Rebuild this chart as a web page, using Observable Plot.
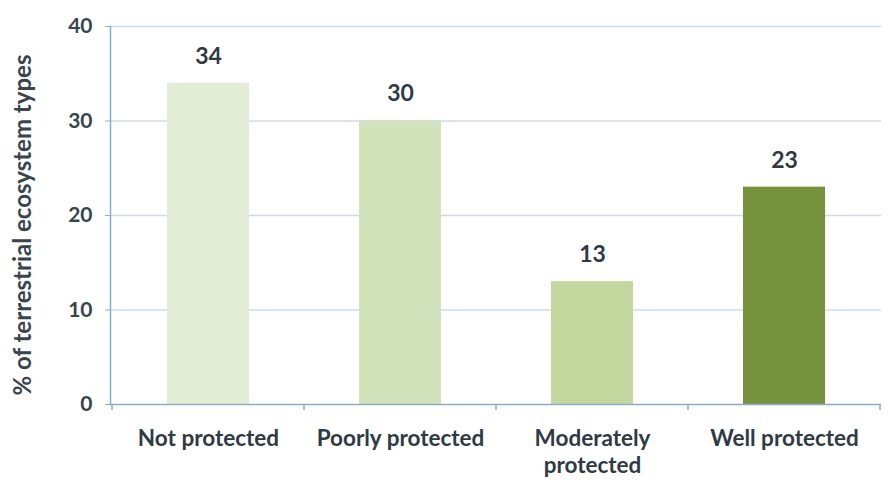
<!DOCTYPE html>
<html>
<head>
<meta charset="utf-8">
<script src="https://cdn.jsdelivr.net/npm/d3@7"></script>
<script src="https://cdn.jsdelivr.net/npm/@observablehq/plot@0.6"></script>
<style>
  html, body { margin: 0; padding: 0; background: #ffffff; }
  #chart { width: 891px; height: 481px; }
  svg { font-family: Lato, "Open Sans", sans-serif; }
</style>
</head>
<body>
<div id="chart"></div>
<script>
const categories = ["Not protected", "Poorly protected", "Moderately protected", "Well protected"];
const tickLabels = ["Not protected", "Poorly protected", "Moderately\nprotected", "Well protected"];
const values = [34, 30, 13, 23];
const colors = ["#e3edd6", "#d2e2bb", "#c3d89f", "#76923c"];
const yTicks = [0, 10, 20, 30, 40];
const yLabel = "% of terrestrial ecosystem types";

const data = categories.map((c, i) => ({category: c, value: values[i], color: colors[i]}));

const chart = Plot.plot({
  width: 891,
  height: 481,
  marginLeft: 110,
  marginRight: 10,
  marginTop: 26,
  marginBottom: 77,
  style: {fontFamily: "Lato, 'Open Sans', sans-serif", background: "#ffffff"},
  x: {domain: categories, paddingInner: 0.575, paddingOuter: 0.2875, axis: null},
  y: {domain: [0, 40], ticks: yTicks, axis: null},
  marks: [
    Plot.gridY(yTicks.filter(t => t > 0), {stroke: "#c9dcea", strokeOpacity: 1, strokeWidth: 1.5}),
    Plot.barY(data, {x: "category", y: "value", fill: "color"}),
    Plot.text(data, {x: "category", y: "value", text: d => String(d.value), dy: -27, fontSize: 23, fontWeight: "bold", fill: "#2f3a44"}),
    Plot.axisY({ticks: yTicks, tickSize: 5, tickPadding: 13, fontSize: 21, fontWeight: "bold", fill: "#3a444c", stroke: "#8eaac8", label: null}),
    Plot.axisX({tickSize: 0, tickPadding: 22, fontSize: 22.5, fontWeight: "bold", fill: "#2f3a44", lineWidth: 100, lineHeight: 1.2,
      tickFormat: d => tickLabels[categories.indexOf(d)], label: null}),
    Plot.frame({anchor: "left", stroke: "#8eaac8", strokeWidth: 1.5}),
    Plot.ruleY([0], {stroke: "#8eaac8", strokeWidth: 1.5})
  ]
});

// y label and x-axis band boundary ticks
const svg = d3.select(chart);
const xs = chart.scale("x");
const ys = chart.scale("y");
const half = xs.step / 2;
const bounds = categories.map(c => xs.apply(c) + xs.bandwidth / 2 - half);
bounds.push(xs.apply(categories[categories.length - 1]) + xs.bandwidth / 2 + half);
const y0 = ys.apply(0);
svg.append("g").selectAll("line").data(bounds).join("line")
  .attr("x1", d => d).attr("x2", d => d)
  .attr("y1", y0).attr("y2", y0 + 6)
  .attr("stroke", "#8eaac8").attr("stroke-width", 1.5);

const yMid = (ys.apply(0) + ys.apply(40)) / 2;
svg.append("text")
  .attr("transform", `translate(31,${yMid + 10}) rotate(-90)`)
  .attr("text-anchor", "middle")
  .attr("font-size", 24)
  .attr("font-weight", "bold")
  .attr("fill", "#3a444c")
  .text(yLabel);

document.getElementById("chart").appendChild(chart);
</script>
</body>
</html>
